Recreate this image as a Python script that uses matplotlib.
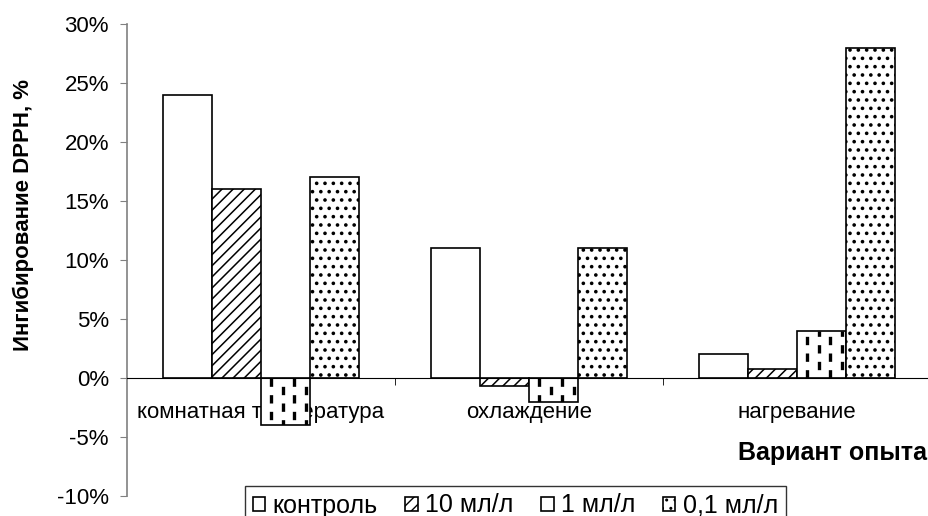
import numpy as np
import matplotlib
matplotlib.use('Agg')
import matplotlib.pyplot as plt
from matplotlib.ticker import FuncFormatter, FixedLocator

plt.rcParams['font.family'] = ['Liberation Sans', 'DejaVu Sans']
plt.rcParams['hatch.linewidth'] = 1.0
plt.rcParams['lines.scale_dashes'] = False

categories = ['комнатная температура', 'охлаждение', 'нагревание']
series_names = ['контроль', '10 мл/л', '1 мл/л', '0,1 мл/л']
control = [24, 11, 2]
ml_10 = [16, -0.7, 0.8]
ml_1 = [-4, -2, 4]
ml_01 = [17, 11, 28]
yticks = [-10, -5, 0, 5, 10, 15, 20, 25, 30]

series = [control, ml_10, ml_1, ml_01]
hatches = ['', '///', '', '..']
hatch_lw = [1.0, 1.1, 1.0, 1.4]

fig = plt.figure(figsize=(9.29, 5.16), dpi=100)
ax = fig.add_axes([127 / 929, 20 / 516, 804 / 929, 472 / 516])

x = np.arange(len(categories))
width = 0.183
containers = []
for i, (vals, name, h) in enumerate(zip(series, series_names, hatches)):
    bc = ax.bar(x + (i - 1.5) * width, vals, width, label=name, color='white',
                edgecolor='black', linewidth=1.2, hatch=h, zorder=2)
    if hasattr(bc.patches[0], 'set_hatch_linewidth'):
        for p in bc.patches:
            p.set_hatch_linewidth(hatch_lw[i])
    containers.append(bc)

# dashed vertical fill for the 1 ml/l bars, staggered column to column
for rect in containers[2].patches:
    x0, w = rect.get_x(), rect.get_width()
    y0, h = rect.get_y(), rect.get_height()
    for k, frac in enumerate([0.2, 0.45, 0.68, 0.92]):
        xc = x0 + frac * w
        off = 0 if k % 2 == 0 else 6
        ln, = ax.plot([xc, xc], [y0, y0 + h], color='black', lw=2.4,
                      linestyle=(off, (6, 6)), zorder=3, solid_capstyle='butt')
        ln.set_clip_path(rect)

ax.set_xlim(-0.5, 2.5)
ax.set_ylim(-10, 30)
ax.set_yticks(yticks)
ax.yaxis.set_major_formatter(FuncFormatter(lambda v, p: '%d%%' % v))
ax.tick_params(axis='y', labelsize=16, direction='out', length=5, color='#808080', pad=8)

ax.set_xticks(x)
ax.set_xticklabels(categories)
ax.tick_params(axis='x', length=0, pad=17, labelsize=16)
ax.xaxis.set_minor_locator(FixedLocator([0.5, 1.5]))
ax.tick_params(axis='x', which='minor', length=5, direction='out', color='black')

for s in ['top', 'right']:
    ax.spines[s].set_visible(False)
ax.spines['bottom'].set_position(('data', 0))
ax.spines['left'].set_color('#808080')
ax.spines['left'].set_linewidth(1.2)

fig.text(23 / 929, 1 - 215 / 516, 'Ингибирование DPPH, %', fontsize=16,
         fontweight='bold', rotation=90, ha='center', va='center')
fig.text(927 / 929, 1 - 453 / 516, 'Вариант опыта', fontsize=18, fontweight='bold',
         ha='right', va='center')

leg = fig.legend(loc='upper left', bbox_to_anchor=(245 / 929, 1 - 486 / 516), ncol=4,
                 fontsize=18, frameon=True, fancybox=False, edgecolor='black',
                 handlelength=0.5, handleheight=0.5, handletextpad=0.3,
                 columnspacing=1.1, borderpad=0.3, borderaxespad=0)
leg.get_frame().set_linewidth(1.0)

fig.savefig('out.png', dpi=100)
